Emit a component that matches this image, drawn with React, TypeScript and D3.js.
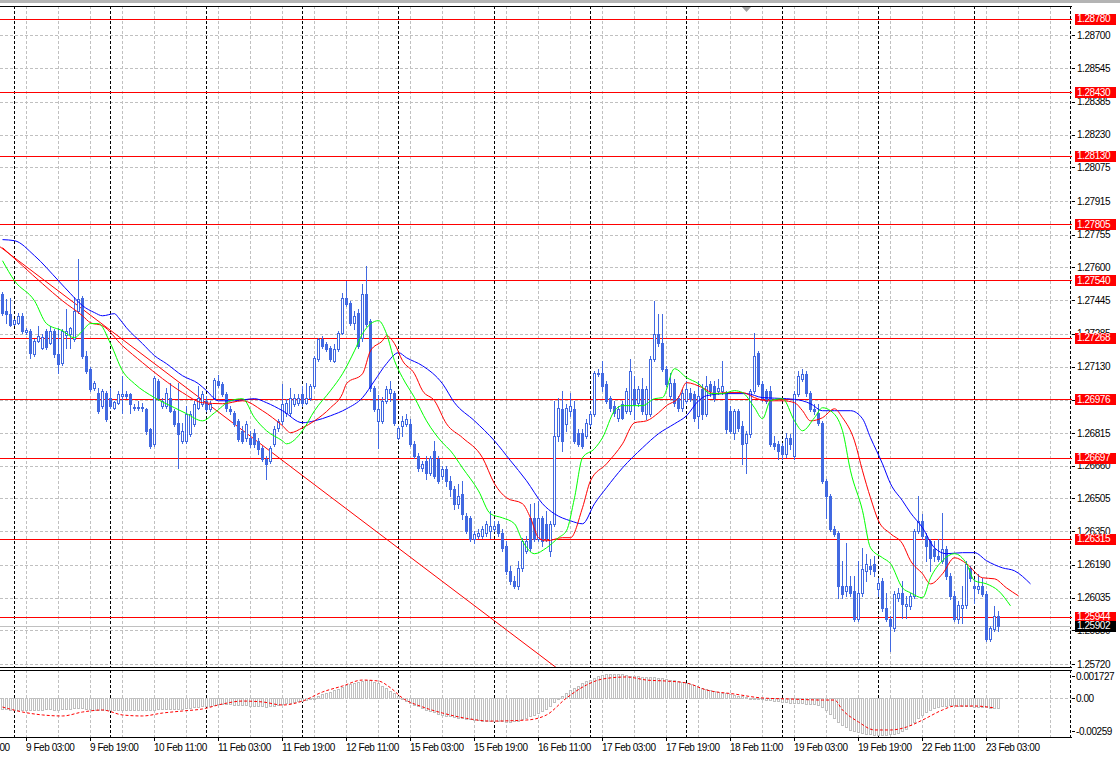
import React from 'react';
import * as d3 from 'd3';

// ---------- DATA ----------
// Hourly candles: [open, high, low, close], from 8 Feb 21:00 to 23 Feb 06:00
const candles: [number, number, number, number][] = [
  [1.27476,1.27485,1.27376,1.27386],[1.27395,1.27452,1.27339,1.27381],[1.27381,1.27457,1.27324,1.27329],[1.27334,1.27357,1.27329,1.27352],
  [1.27339,1.27386,1.27334,1.27371],[1.27371,1.27386,1.27291,1.27300],[1.27295,1.27314,1.27286,1.27305],[1.27300,1.27310,1.27172,1.27196],
  [1.27191,1.27262,1.27182,1.27253],[1.27253,1.27324,1.27248,1.27276],[1.27220,1.27286,1.27215,1.27272],[1.27300,1.27310,1.27215,1.27224],
  [1.27243,1.27324,1.27239,1.27300],[1.27300,1.27310,1.27177,1.27191],[1.27191,1.27314,1.27101,1.27144],[1.27149,1.27310,1.27139,1.27300],
  [1.27281,1.27405,1.27220,1.27300],[1.27286,1.27319,1.27220,1.27314],[1.27262,1.27461,1.27253,1.27395],[1.27395,1.27642,1.27386,1.27452],
  [1.27457,1.27466,1.27172,1.27182],[1.27182,1.27205,1.27101,1.27110],[1.27120,1.27129,1.27016,1.27025],[1.27030,1.27063,1.27021,1.27054],
  [1.27007,1.27030,1.26912,1.26921],[1.26945,1.27025,1.26935,1.27016],[1.27007,1.27016,1.26873,1.26883],[1.26983,1.27030,1.26935,1.26945],
  [1.26935,1.26968,1.26930,1.26964],[1.26959,1.27016,1.26954,1.27002],[1.26992,1.27087,1.26912,1.27002],[1.27002,1.27016,1.26983,1.26992],
  [1.27002,1.27007,1.26912,1.26954],[1.26940,1.26954,1.26926,1.26935],[1.26935,1.26968,1.26926,1.26940],[1.26940,1.26959,1.26921,1.26935],
  [1.26930,1.26935,1.26812,1.26826],[1.26835,1.26840,1.26745,1.26755],[1.26764,1.27087,1.26755,1.27078],[1.27063,1.27073,1.26973,1.26983],
  [1.26945,1.26983,1.26935,1.26968],[1.26945,1.27030,1.26935,1.27007],[1.26983,1.27054,1.26916,1.26921],[1.26921,1.26930,1.26850,1.26859],
  [1.26864,1.27054,1.26650,1.26812],[1.26778,1.26864,1.26769,1.26826],[1.26778,1.26945,1.26769,1.26907],[1.26812,1.26921,1.26802,1.26907],
  [1.26859,1.26968,1.26850,1.26954],[1.26935,1.27040,1.26930,1.26983],[1.26954,1.27016,1.26945,1.27002],[1.26968,1.26992,1.26921,1.26930],
  [1.26930,1.26968,1.26921,1.26954],[1.26983,1.27078,1.26978,1.27068],[1.27063,1.27092,1.27035,1.27044],[1.27049,1.27059,1.26992,1.27002],
  [1.27002,1.27011,1.26921,1.26935],[1.26930,1.26945,1.26907,1.26921],[1.26912,1.26921,1.26850,1.26859],[1.26873,1.26883,1.26778,1.26788],
  [1.26826,1.26850,1.26769,1.26778],[1.26793,1.26873,1.26778,1.26859],[1.26793,1.26826,1.26750,1.26764],[1.26816,1.26835,1.26750,1.26764],
  [1.26778,1.26793,1.26717,1.26741],[1.26745,1.26755,1.26684,1.26693],[1.26693,1.26707,1.26598,1.26669],[1.26684,1.26755,1.26674,1.26745],
  [1.26764,1.26850,1.26755,1.26835],[1.26840,1.26883,1.26826,1.26873],[1.26873,1.27049,1.26859,1.26954],[1.26912,1.26978,1.26897,1.26959],
  [1.26912,1.27030,1.26902,1.26983],[1.26954,1.27002,1.26945,1.26983],[1.26959,1.27002,1.26949,1.26983],[1.27002,1.27040,1.26945,1.26959],
  [1.26959,1.27054,1.26954,1.26983],[1.26983,1.27049,1.26973,1.27040],[1.27040,1.27182,1.27030,1.27172],[1.27167,1.27267,1.27158,1.27262],
  [1.27262,1.27276,1.27220,1.27229],[1.27239,1.27248,1.27205,1.27215],[1.27220,1.27229,1.27158,1.27167],[1.27158,1.27239,1.27153,1.27215],
  [1.27215,1.27300,1.27205,1.27291],[1.27291,1.27480,1.27286,1.27457],[1.27457,1.27537,1.27419,1.27428],[1.27433,1.27442,1.27329,1.27339],
  [1.27339,1.27395,1.27310,1.27371],[1.27386,1.27405,1.27220,1.27229],[1.27267,1.27523,1.27253,1.27476],[1.27476,1.27608,1.27324,1.27334],
  [1.27348,1.27357,1.27016,1.27030],[1.27030,1.27040,1.26921,1.26930],[1.26873,1.26997,1.26745,1.26930],[1.26873,1.26987,1.26864,1.26968],
  [1.26968,1.27040,1.26959,1.27025],[1.27007,1.27063,1.26968,1.27025],[1.27007,1.27016,1.26854,1.26864],[1.26793,1.26850,1.26788,1.26840],
  [1.26850,1.26897,1.26802,1.26873],[1.26859,1.26907,1.26850,1.26883],[1.26859,1.26883,1.26755,1.26764],[1.26764,1.26778,1.26698,1.26707],
  [1.26707,1.26722,1.26636,1.26650],[1.26650,1.26684,1.26636,1.26669],[1.26684,1.26707,1.26598,1.26627],[1.26627,1.26707,1.26617,1.26698],
  [1.26731,1.26778,1.26603,1.26612],[1.26693,1.26707,1.26579,1.26589],[1.26612,1.26660,1.26598,1.26646],[1.26646,1.26660,1.26565,1.26589],
  [1.26589,1.26612,1.26518,1.26551],[1.26551,1.26565,1.26456,1.26480],[1.26480,1.26575,1.26461,1.26518],[1.26527,1.26589,1.26409,1.26432],
  [1.26423,1.26437,1.26342,1.26352],[1.26413,1.26423,1.26304,1.26314],[1.26314,1.26352,1.26295,1.26338],[1.26328,1.26361,1.26319,1.26342],
  [1.26328,1.26376,1.26319,1.26361],[1.26342,1.26399,1.26328,1.26385],[1.26352,1.26447,1.26319,1.26376],[1.26361,1.26399,1.26352,1.26376],
  [1.26385,1.26399,1.26328,1.26342],[1.26342,1.26361,1.26257,1.26271],[1.26281,1.26304,1.26148,1.26162],[1.26162,1.26186,1.26100,1.26115],
  [1.26115,1.26138,1.26081,1.26091],[1.26091,1.26210,1.26077,1.26176],[1.26176,1.26319,1.26162,1.26304],[1.26257,1.26328,1.26247,1.26304],
  [1.26413,1.26480,1.26257,1.26271],[1.26413,1.26484,1.26304,1.26314],[1.26314,1.26494,1.26304,1.26413],[1.26413,1.26423,1.26281,1.26304],
  [1.26385,1.26447,1.26304,1.26319],[1.26257,1.26399,1.26233,1.26385],[1.26385,1.26968,1.26376,1.26802],[1.26802,1.26983,1.26778,1.26935],
  [1.26930,1.27016,1.26731,1.26778],[1.26859,1.26954,1.26826,1.26935],[1.26921,1.27007,1.26897,1.26945],[1.26930,1.26968,1.26769,1.26778],
  [1.26816,1.26835,1.26755,1.26764],[1.26816,1.26835,1.26745,1.26755],[1.26802,1.26883,1.26793,1.26864],[1.26859,1.26921,1.26850,1.26907],
  [1.26907,1.27110,1.26897,1.27101],[1.27101,1.27120,1.27087,1.27096],[1.27101,1.27158,1.27016,1.27040],[1.27049,1.27063,1.26959,1.26968],
  [1.26983,1.26992,1.26921,1.26935],[1.26945,1.26968,1.26897,1.26912],[1.26888,1.26945,1.26873,1.26930],[1.26954,1.26968,1.26883,1.26888],
  [1.26921,1.27030,1.26912,1.27016],[1.26921,1.27167,1.26907,1.27110],[1.27025,1.27087,1.26883,1.26954],[1.26959,1.27040,1.26945,1.27025],
  [1.27025,1.27078,1.26907,1.26921],[1.26907,1.27040,1.26883,1.27025],[1.26907,1.27182,1.26897,1.27167],[1.27167,1.27442,1.27158,1.27286],
  [1.27286,1.27381,1.27229,1.27243],[1.27243,1.27381,1.27110,1.27120],[1.27120,1.27134,1.27040,1.27049],[1.26992,1.27101,1.26978,1.27054],
  [1.27054,1.27073,1.26945,1.26959],[1.26983,1.26992,1.26921,1.26935],[1.26935,1.27025,1.26921,1.27007],[1.26968,1.27063,1.26959,1.27025],
  [1.27007,1.27030,1.26968,1.26978],[1.27002,1.27016,1.26873,1.26888],[1.26897,1.27063,1.26840,1.26992],[1.27025,1.27049,1.26883,1.26907],
  [1.26907,1.27087,1.26897,1.27040],[1.27049,1.27063,1.26992,1.27016],[1.27040,1.27063,1.26968,1.26983],[1.27016,1.27073,1.27002,1.27030],
  [1.27016,1.27158,1.27002,1.27040],[1.27007,1.27016,1.26816,1.26835],[1.26921,1.26945,1.26816,1.26826],[1.26816,1.26930,1.26788,1.26921],
  [1.26921,1.26930,1.26826,1.26840],[1.26850,1.26873,1.26669,1.26764],[1.26769,1.26826,1.26627,1.26812],[1.26812,1.27025,1.26797,1.27016],
  [1.27016,1.27291,1.27007,1.27182],[1.27196,1.27205,1.27040,1.27049],[1.27049,1.27063,1.26968,1.26983],[1.27016,1.27025,1.26959,1.26968],
  [1.27016,1.27040,1.26755,1.26764],[1.26769,1.26802,1.26741,1.26755],[1.26764,1.26778,1.26693,1.26731],[1.26755,1.26769,1.26693,1.26717],
  [1.26717,1.26816,1.26703,1.26793],[1.26793,1.26812,1.26741,1.26764],[1.26707,1.27016,1.26693,1.27002],[1.27002,1.27110,1.26992,1.27087],
  [1.27073,1.27120,1.27063,1.27096],[1.27096,1.27110,1.26992,1.27007],[1.27007,1.27016,1.26921,1.26930],[1.26930,1.26954,1.26907,1.26921],
  [1.26912,1.26954,1.26854,1.26864],[1.26864,1.26873,1.26579,1.26589],[1.26589,1.26598,1.26413,1.26518],[1.26518,1.26527,1.26352,1.26361],
  [1.26361,1.26376,1.26328,1.26338],[1.26342,1.26352,1.26034,1.26091],[1.26091,1.26210,1.26034,1.26053],[1.26067,1.26295,1.26043,1.26091],
  [1.26091,1.26138,1.26043,1.26058],[1.26067,1.26138,1.25925,1.25934],[1.25934,1.26210,1.25925,1.26058],[1.26058,1.26271,1.26043,1.26172],
  [1.26162,1.26243,1.26115,1.26196],[1.26186,1.26219,1.26148,1.26172],[1.26196,1.26233,1.26138,1.26162],[1.26077,1.26129,1.26043,1.26105],
  [1.26115,1.26129,1.25972,1.25987],[1.25987,1.26058,1.25925,1.25934],[1.25934,1.25949,1.25783,1.25901],[1.25892,1.26067,1.25878,1.26053],
  [1.26034,1.26081,1.26020,1.26058],[1.26058,1.26115,1.25939,1.26005],[1.25996,1.26043,1.25939,1.26005],[1.25996,1.26058,1.25982,1.26043],
  [1.26043,1.26361,1.26034,1.26352],[1.26352,1.26518,1.26342,1.26399],[1.26399,1.26432,1.26314,1.26328],[1.26328,1.26342,1.26210,1.26281],
  [1.26304,1.26314,1.26162,1.26224],[1.26267,1.26304,1.26210,1.26233],[1.26233,1.26314,1.26210,1.26219],[1.26210,1.26437,1.26200,1.26267],
  [1.26267,1.26281,1.26124,1.26138],[1.26138,1.26153,1.26029,1.26043],[1.26043,1.26067,1.25925,1.25934],[1.25934,1.26020,1.25916,1.26001],
  [1.25987,1.26091,1.25916,1.26001],[1.26001,1.26210,1.25987,1.26196],[1.26176,1.26186,1.26115,1.26129],[1.26091,1.26124,1.26010,1.26081],
  [1.26077,1.26148,1.26058,1.26091],[1.26091,1.26129,1.26043,1.26053],[1.26053,1.26067,1.25830,1.25840],[1.25840,1.25901,1.25830,1.25892],
  [1.25887,1.25996,1.25878,1.25949],[1.25949,1.25972,1.25878,1.25901],
];

// Moving averages: [bar index, price]
const maSlow: [number, number][] = [
  [0,1.27732],[3,1.27727],[8,1.27656],[14,1.27537],[17,1.27476],[20,1.27419],[23,1.27386],[25,1.27371],[28,1.27381],[29,1.27362],
  [31,1.27314],[35,1.27239],[38,1.27182],[41,1.27144],[45,1.27087],[49,1.27049],[51,1.27016],[54,1.26968],[58,1.26968],[63,1.26978],
  [66,1.26959],[70,1.26921],[75,1.26864],[78,1.26873],[82,1.26897],[86,1.26930],[90,1.26983],[93,1.27063],[96,1.27144],[99,1.27196],
  [101,1.27172],[105,1.27134],[110,1.27049],[113,1.26959],[118,1.26873],[123,1.26778],[127,1.26684],[131,1.26589],[135,1.26480],[138,1.26432],
  [142,1.26399],[145,1.26385],[148,1.26480],[151,1.26556],[155,1.26650],[160,1.26745],[164,1.26812],[168,1.26859],[171,1.26897],[174,1.26968],
  [176,1.26992],[181,1.27002],[186,1.27002],[190,1.26983],[196,1.26978],[200,1.26968],[202,1.26954],[205,1.26921],[208,1.26921],[212,1.26921],
  [215,1.26883],[217,1.26793],[220,1.26669],[222,1.26575],[225,1.26494],[227,1.26437],[230,1.26366],[233,1.26271],[236,1.26243],[240,1.26248],
  [243,1.26248],[246,1.26210],[250,1.26176],[253,1.26162],[257,1.26100],
];
const maMid: [number, number][] = [
  [0,1.27694],[5,1.27608],[10,1.27523],[15,1.27442],[20,1.27371],[22,1.27338],[25,1.27324],[30,1.27229],[35,1.27149],[40,1.27073],
  [45,1.27007],[50,1.26959],[55,1.26954],[60,1.26968],[65,1.26921],[70,1.26850],[72,1.26817],[75,1.26840],[78,1.26873],[82,1.26935],
  [85,1.27002],[86,1.27049],[90,1.27096],[92,1.27205],[95,1.27253],[96,1.27276],[98,1.27239],[100,1.27158],[103,1.27096],[105,1.27016],
  [108,1.26968],[111,1.26859],[115,1.26793],[120,1.26698],[123,1.26575],[126,1.26508],[130,1.26480],[132,1.26413],[134,1.26319],[136,1.26304],
  [140,1.26319],[142,1.26319],[145,1.26461],[147,1.26589],[151,1.26669],[155,1.26764],[158,1.26864],[161,1.26873],[164,1.26911],[166,1.26945],
  [169,1.26983],[171,1.27054],[175,1.27030],[178,1.27002],[181,1.27007],[185,1.27007],[188,1.26983],[191,1.26968],[195,1.26968],[198,1.26959],
  [200,1.26921],[202,1.26873],[205,1.26888],[208,1.26930],[210,1.26888],[213,1.26778],[215,1.26636],[217,1.26508],[219,1.26399],[222,1.26338],
  [225,1.26290],[227,1.26210],[230,1.26148],[232,1.26100],[235,1.26148],[238,1.26224],[241,1.26196],[245,1.26129],[248,1.26124],[251,1.26081],
  [254,1.26043],
];
const maFast: [number, number][] = [
  [0,1.27632],[3,1.27537],[8,1.27442],[11,1.27334],[15,1.27300],[18,1.27267],[20,1.27300],[22,1.27334],[24,1.27334],[27,1.27239],
  [30,1.27110],[33,1.27049],[38,1.26983],[43,1.26935],[46,1.26907],[50,1.26873],[53,1.26911],[57,1.26968],[60,1.26978],[63,1.26888],
  [66,1.26826],[70,1.26778],[71,1.26764],[75,1.26826],[78,1.26921],[82,1.27016],[85,1.27096],[88,1.27205],[90,1.27286],[94,1.27348],
  [96,1.27286],[98,1.27158],[100,1.27078],[103,1.26983],[106,1.26873],[110,1.26769],[112,1.26731],[115,1.26650],[119,1.26541],[122,1.26432],
  [125,1.26413],[128,1.26385],[130,1.26304],[133,1.26243],[136,1.26271],[139,1.26319],[141,1.26352],[143,1.26508],[145,1.26698],[148,1.26741],
  [150,1.26793],[153,1.26921],[155,1.26945],[160,1.26945],[163,1.26978],[165,1.26983],[168,1.27120],[171,1.27078],[174,1.27049],[177,1.27002],
  [180,1.27002],[183,1.27016],[185,1.27007],[188,1.26935],[190,1.26883],[192,1.26968],[195,1.26978],[198,1.26873],[200,1.26826],[203,1.26888],
  [205,1.26935],[207,1.26921],[210,1.26826],[212,1.26636],[215,1.26447],[217,1.26271],[220,1.26224],[222,1.26196],[225,1.26081],[227,1.26058],
  [230,1.26034],[232,1.26129],[235,1.26210],[238,1.26243],[241,1.26196],[243,1.26115],[246,1.26100],[249,1.26067],[252,1.25996],
];

// MACD main values (one per candle)
const macdMain: number[] = [
  -0.00088,-0.00090,-0.00091,-0.00092,-0.00092,-0.00093,-0.00093,-0.00092,-0.00092,-0.00091,
  -0.00091,-0.00090,-0.00090,-0.00091,-0.00092,-0.00090,-0.00088,-0.00086,-0.00082,-0.00078,
  -0.00082,-0.00086,-0.00090,-0.00092,-0.00094,-0.00094,-0.00095,-0.00095,-0.00094,-0.00093,
  -0.00092,-0.00091,-0.00091,-0.00091,-0.00092,-0.00093,-0.00095,-0.00097,-0.00092,-0.00090,
  -0.00089,-0.00087,-0.00086,-0.00087,-0.00088,-0.00086,-0.00082,-0.00078,-0.00074,-0.00070,
  -0.00066,-0.00063,-0.00060,-0.00055,-0.00050,-0.00048,-0.00048,-0.00050,-0.00053,-0.00056,
  -0.00058,-0.00058,-0.00060,-0.00062,-0.00064,-0.00066,-0.00068,-0.00066,-0.00062,-0.00056,
  -0.00048,-0.00042,-0.00036,-0.00030,-0.00025,-0.00020,-0.00014,-0.00008,0.00002,0.00015,
  0.00028,0.00040,0.00050,0.00060,0.00072,0.00088,0.00102,0.00110,0.00118,0.00124,
  0.00132,0.00140,0.00138,0.00128,0.00115,0.00098,0.00078,0.00058,0.00038,0.00018,
  -0.00002,-0.00020,-0.00036,-0.00052,-0.00066,-0.00080,-0.00092,-0.00102,-0.00112,-0.00122,
  -0.00130,-0.00138,-0.00144,-0.00150,-0.00154,-0.00158,-0.00163,-0.00168,-0.00172,-0.00175,
  -0.00178,-0.00180,-0.00181,-0.00182,-0.00182,-0.00183,-0.00185,-0.00186,-0.00184,-0.00178,
  -0.00168,-0.00158,-0.00145,-0.00130,-0.00115,-0.00100,-0.00085,-0.00065,-0.00035,-0.00010,
  0.00015,0.00040,0.00060,0.00080,0.00098,0.00115,0.00130,0.00145,0.00160,0.00172,
  0.00180,0.00186,0.00190,0.00190,0.00188,0.00185,0.00180,0.00176,0.00173,0.00170,
  0.00168,0.00168,0.00166,0.00164,0.00160,0.00155,0.00150,0.00145,0.00140,0.00135,
  0.00128,0.00120,0.00110,0.00100,0.00090,0.00080,0.00070,0.00062,0.00055,0.00048,
  0.00042,0.00036,0.00030,0.00024,0.00018,0.00012,0.00006,0.00002,-0.00002,-0.00006,
  -0.00010,-0.00014,-0.00018,-0.00022,-0.00026,-0.00030,-0.00034,-0.00036,-0.00038,-0.00040,
  -0.00042,-0.00044,-0.00046,-0.00050,-0.00056,-0.00070,-0.00095,-0.00125,-0.00155,-0.00185,
  -0.00210,-0.00230,-0.00248,-0.00260,-0.00270,-0.00277,-0.00282,-0.00286,-0.00289,-0.00290,
  -0.00290,-0.00288,-0.00285,-0.00280,-0.00272,-0.00260,-0.00240,-0.00215,-0.00185,-0.00155,
  -0.00130,-0.00110,-0.00095,-0.00082,-0.00072,-0.00064,-0.00060,-0.00058,-0.00058,-0.00060,
  -0.00062,-0.00064,-0.00066,-0.00068,-0.00070,-0.00072,-0.00074,-0.00076,-0.00078,-0.00080,
];
// MACD signal line: [bar index, value]
const macdSignal: [number, number][] = [
  [0,-0.00071],[5,-0.00110],[10,-0.00133],[15,-0.00141],[20,-0.00110],[25,-0.00094],[30,-0.00133],[35,-0.00141],
  [40,-0.00118],[45,-0.00102],[50,-0.00086],[55,-0.00047],[60,-0.00024],[65,-0.00031],[70,-0.00055],[75,-0.00024],
  [80,0.00047],[85,0.00094],[90,0.00141],[94,0.00133],[97,0.00080],[100,0.00000],[105,-0.00070],[110,-0.00118],
  [116,-0.00160],[122,-0.00181],[131,-0.00173],[136,-0.00133],[141,0.00000],[146,0.00102],[150,0.00149],[156,0.00165],
  [161,0.00141],[166,0.00133],[171,0.00118],[176,0.00063],[183,0.00031],[190,0.00000],[197,-0.00008],[205,-0.00016],
  [208,-0.00016],[210,-0.00094],[214,-0.00188],[218,-0.00251],[222,-0.00251],[226,-0.00228],[230,-0.00173],[235,-0.00094],
  [238,-0.00063],[243,-0.00063],[248,-0.00078],
];

// Horizontal support / resistance levels
const levels = [1.28780, 1.28430, 1.28130, 1.27805, 1.27540, 1.27268, 1.26976, 1.26697, 1.26315, 1.25944];
const bidPrice = 1.25902;
// Trend line anchors: [bar index, price]
const trendLine: [number, number][] = [[0, 1.27691], [139, 1.25697]];

const priceTicks = [1.28700, 1.28545, 1.28385, 1.28230, 1.28075, 1.27915, 1.27755, 1.27600, 1.27445, 1.27285,
  1.27130, 1.26970, 1.26815, 1.26660, 1.26505, 1.26350, 1.26190, 1.26035, 1.25880, 1.25720];
const macdTicks: { v: number; label: string }[] = [
  { v: 0.001727, label: '0.001727' }, { v: 0, label: '0.00' }, { v: -0.00259, label: '-0.00259' },
];
const timeLabels: { i: number; label: string }[] = [
  { i: -10, label: '8 Feb 11:00' }, { i: 6, label: '9 Feb 03:00' }, { i: 22, label: '9 Feb 19:00' },
  { i: 38, label: '10 Feb 11:00' }, { i: 54, label: '11 Feb 03:00' }, { i: 70, label: '11 Feb 19:00' },
  { i: 86, label: '12 Feb 11:00' }, { i: 102, label: '15 Feb 03:00' }, { i: 118, label: '15 Feb 19:00' },
  { i: 134, label: '16 Feb 11:00' }, { i: 150, label: '17 Feb 03:00' }, { i: 166, label: '17 Feb 19:00' },
  { i: 182, label: '18 Feb 11:00' }, { i: 198, label: '19 Feb 03:00' }, { i: 214, label: '19 Feb 19:00' },
  { i: 230, label: '22 Feb 11:00' }, { i: 246, label: '23 Feb 03:00' },
];
// bar indices of the midnight separators
const daySeparators = [3, 27, 51, 75, 99, 123, 147, 171, 195, 219, 243, 267];

// ---------- CHART ----------
const PLOT_R = 1072;
const MAIN_TOP = 6;
const MAIN_BOTTOM = 667;
const IND_TOP = 670;
const IND_BOTTOM = 737;
const BLUE = '#4169e1';
const GRID = '#c0c0c0';
const FONT = "'Liberation Sans', Arial, sans-serif";

export default function App() {
  const x = d3.scaleLinear().domain([0, 249]).range([2, 998]);
  const y = d3.scaleLinear().domain([1.25706, 1.28868]).range([667, 0]);
  const yi = d3.scaleLinear().domain([-0.00259, 0.001727]).range([731, 676]);
  const px = (v: number) => Math.round(v) + 0.5;

  const gridBars: number[] = [];
  for (let i = -2; x(i) < PLOT_R; i += 8) gridBars.push(i);

  const maLine = d3.line<[number, number]>().x(d => x(d[0]) + 0.5).y(d => y(d[1])).curve(d3.curveMonotoneX);
  const sigLine = d3.line<[number, number]>().x(d => x(d[0]) + 0.5).y(d => yi(d[1])).curve(d3.curveMonotoneX);
  const tl = d3.scaleLinear().domain([trendLine[0][0], trendLine[1][0]]).range([trendLine[0][1], trendLine[1][1]]);

  const textStyle = { fontFamily: FONT, fontSize: 10, letterSpacing: -0.45 } as React.CSSProperties;

  return (
    <svg width={1120} height={758} style={{ position: 'absolute', left: 0, top: 0, background: '#fff' }}>
      <defs>
        <clipPath id="mainClip"><rect x={0} y={MAIN_TOP} width={PLOT_R} height={MAIN_BOTTOM - MAIN_TOP} /></clipPath>
        <clipPath id="indClip"><rect x={0} y={IND_TOP} width={PLOT_R} height={IND_BOTTOM - IND_TOP} /></clipPath>
      </defs>
      <rect x={0} y={0} width={1120} height={758} fill="#fff" />
      <rect x={0} y={0} width={1120} height={3} fill="#b4b4b4" />

      {/* main panel */}
      <g clipPath="url(#mainClip)">
        {priceTicks.map(p => (
          <line key={'hg' + p} x1={0} x2={PLOT_R} y1={px(y(p))} y2={px(y(p))} stroke={GRID} strokeDasharray="3,2" />
        ))}
        {gridBars.map(i => (
          <line key={'vg' + i} x1={px(x(i))} x2={px(x(i))} y1={MAIN_TOP} y2={MAIN_BOTTOM} stroke={GRID} strokeDasharray="3,2" />
        ))}
        {daySeparators.map(i => (
          <line key={'ds' + i} x1={px(x(i))} x2={px(x(i))} y1={MAIN_TOP} y2={MAIN_BOTTOM} stroke="#000" strokeDasharray="3,2" />
        ))}
        <line x1={0} x2={PLOT_R} y1={px(y(bidPrice))} y2={px(y(bidPrice))} stroke={GRID} />
        {levels.map(p => (
          <line key={'lv' + p} x1={0} x2={PLOT_R} y1={px(y(p))} y2={px(y(p))} stroke="#ff0000" />
        ))}
        <line x1={x(-1)} y1={y(tl(-1))} x2={x(150)} y2={y(tl(150))} stroke="#ff0000" />

        {candles.map((c, i) => {
          const [o, h, l, cl] = c;
          const cx = Math.round(x(i));
          const yt = Math.round(y(Math.max(o, cl)));
          const yb = Math.round(y(Math.min(o, cl)));
          const bull = cl >= o;
          return (
            <g key={'c' + i}>
              <line x1={cx + 0.5} x2={cx + 0.5} y1={Math.round(y(h))} y2={Math.round(y(l)) + 1} stroke={BLUE} />
              {bull ? (
                <rect x={cx - 0.5} y={yt + 0.5} width={2} height={Math.max(yb - yt, 1)} fill="#fff" stroke={BLUE} />
              ) : (
                <rect x={cx - 1} y={yt} width={3} height={Math.max(yb - yt + 1, 1)} fill={BLUE} />
              )}
            </g>
          );
        })}
        <path d={maLine(maSlow) || ''} fill="none" stroke="#0000ff" />
        <path d={maLine(maMid) || ''} fill="none" stroke="#ff0000" />
        <path d={maLine(maFast) || ''} fill="none" stroke="#00ff00" />
      </g>
      <line x1={0} x2={PLOT_R} y1={MAIN_TOP + 0.5} y2={MAIN_TOP + 0.5} stroke="#000" />
      <line x1={0} x2={PLOT_R} y1={MAIN_BOTTOM + 0.5} y2={MAIN_BOTTOM + 0.5} stroke="#000" />
      <polygon points="742,7 751,7 746.5,12" fill="#a0a0a0" />

      {/* indicator panel */}
      <g clipPath="url(#indClip)">
        {gridBars.map(i => (
          <line key={'ivg' + i} x1={px(x(i))} x2={px(x(i))} y1={IND_TOP} y2={IND_BOTTOM} stroke={GRID} strokeDasharray="3,2" />
        ))}
        <line x1={0} x2={PLOT_R} y1={px(yi(0))} y2={px(yi(0))} stroke={GRID} strokeDasharray="3,2" />
        {daySeparators.map(i => (
          <line key={'ids' + i} x1={px(x(i))} x2={px(x(i))} y1={IND_TOP} y2={IND_BOTTOM} stroke="#000" strokeDasharray="3,2" />
        ))}
        {macdMain.map((v, i) => {
          const cx = Math.round(x(i));
          const y0 = Math.round(yi(0));
          const y1 = Math.round(yi(v));
          return (
            <rect key={'h' + i} x={cx - 0.5} y={Math.min(y0, y1) + 0.5} width={2} height={Math.max(Math.abs(y1 - y0), 1)}
              fill="#fff" stroke="#c0c0c0" />
          );
        })}
        <path d={sigLine(macdSignal) || ''} fill="none" stroke="#ff0000" strokeDasharray="3,2" />
      </g>
      <line x1={0} x2={PLOT_R} y1={IND_TOP + 0.5} y2={IND_TOP + 0.5} stroke="#000" />
      <line x1={0} x2={PLOT_R} y1={IND_BOTTOM + 0.5} y2={IND_BOTTOM + 0.5} stroke="#000" />

      {/* price axis */}
      {priceTicks.map(p => (
        <g key={'pt' + p}>
          <line x1={PLOT_R} x2={PLOT_R + 3} y1={px(y(p))} y2={px(y(p))} stroke="#000" />
          <text x={1077} y={y(p) + 3.5} style={textStyle} fill="#000">{p.toFixed(5)}</text>
        </g>
      ))}
      {levels.map(p => (
        <g key={'pl' + p}>
          <rect x={1075} y={Math.round(y(p)) - 5} width={41} height={11} fill="#ff0000" />
          <text x={1077} y={y(p) + 3.5} style={textStyle} fill="#fff">{p.toFixed(5)}</text>
        </g>
      ))}
      <rect x={1075} y={Math.round(y(bidPrice)) - 5} width={41} height={11} fill="#000" />
      <text x={1077} y={y(bidPrice) + 3.5} style={textStyle} fill="#fff">{bidPrice.toFixed(5)}</text>

      {macdTicks.map(t => (
        <g key={'mt' + t.label}>
          <line x1={PLOT_R} x2={PLOT_R + 3} y1={px(yi(t.v))} y2={px(yi(t.v))} stroke="#000" />
          <text x={1076} y={yi(t.v) + 3.5} style={textStyle} fill="#000">{t.label}</text>
        </g>
      ))}

      {/* time axis */}
      {timeLabels.map(t => (
        <g key={'tl' + t.i}>
          <line x1={px(x(t.i))} x2={px(x(t.i))} y1={IND_BOTTOM} y2={IND_BOTTOM + 4} stroke="#000" />
          <text x={x(t.i)} y={751} style={textStyle} fill="#000">{t.label}</text>
        </g>
      ))}
    </svg>
  );
}
